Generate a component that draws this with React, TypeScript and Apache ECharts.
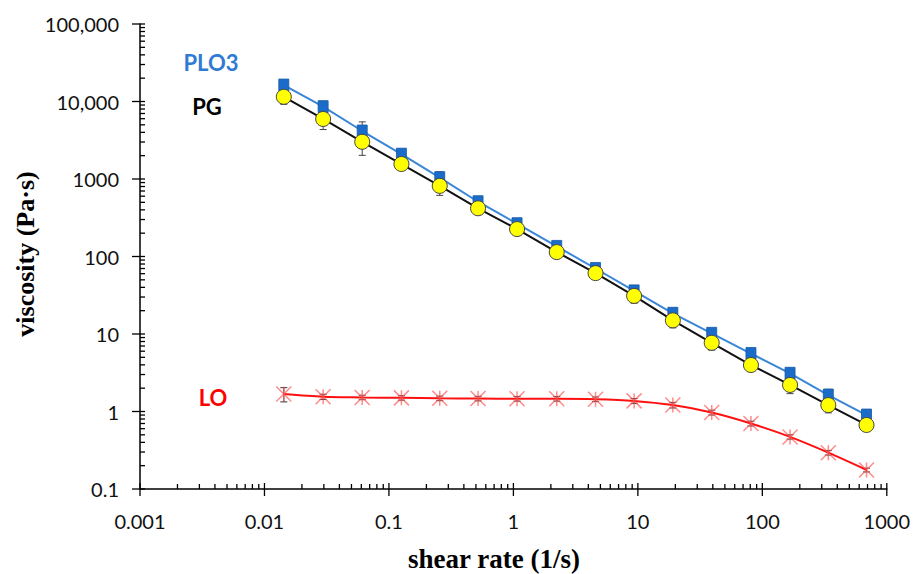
import React, { useEffect, useRef } from "react";
import * as echarts from "echarts";

const shearRate = [0.0143, 0.0296, 0.061, 0.126, 0.256, 0.52, 1.07, 2.23, 4.57, 9.33, 19.1, 39.2, 81, 167, 339, 687];
const plo3 = [16300, 8570, 4160, 2090, 1040, 509, 265, 135, 70, 36, 18.5, 10.2, 5.6, 3.11, 1.63, 0.9];
const plo3Sd = [2000, 1500, 1300, 250, 200, 50, 30, 15, 8, 5, 3, 1, 0.5, 0.5, 0.3, 0.05];
const pg = [11500, 5950, 3020, 1560, 815, 419, 226, 114, 61, 31, 15, 7.7, 3.98, 2.2, 1.21, 0.67];
const pgSd = [2300, 1600, 1000, 250, 200, 60, 30, 15, 10, 6, 3, 1.5, 0.4, 0.5, 0.25, 0.05];
const lo = [1.68, 1.55, 1.52, 1.5, 1.48, 1.47, 1.46, 1.46, 1.44, 1.37, 1.21, 0.97, 0.7, 0.47, 0.294, 0.176];
const loSd = [0.35, 0.12, 0.1, 0.1, 0.1, 0.1, 0.1, 0.1, 0.1, 0.1, 0.1, 0.07, 0.05, 0.03, 0.02, 0.01];

const xMajor = [0.001, 0.01, 0.1, 1, 10, 100, 1000];
const yMajor = [0.1, 1, 10, 100, 1000, 10000, 100000];
const minorMult = [2, 3, 4, 5, 6, 7, 8, 9];

const X_MIN = 0.001, X_MAX = 1000, Y_MIN = 0.1, Y_MAX = 100000;

function fmt(v: number): string {
  const n = Number(v.toPrecision(3));
  if (n >= 10000) return n.toLocaleString("en-US");
  return String(n);
}

export default function App() {
  const ref = useRef<HTMLDivElement>(null);
  useEffect(() => {
    if (!ref.current) return;
    const chart = echarts.init(ref.current, undefined, { renderer: "svg" });

    const tickData: number[][] = [];
    xMajor.forEach((v) => tickData.push([v, Y_MIN, 0]));
    xMajor.slice(0, -1).forEach((v) => minorMult.forEach((m) => tickData.push([v * m, Y_MIN, 1])));
    yMajor.forEach((v) => tickData.push([X_MIN, v, 2]));
    yMajor.slice(0, -1).forEach((v) => minorMult.forEach((m) => tickData.push([X_MIN, v * m, 3])));

    const errSeries = (vals: number[], sd: number[], color: string) => ({
      type: "custom",
      z: 1,
      clip: false,
      data: shearRate.map((x, i) => [x, vals[i], sd[i]]),
      encode: { x: 0, y: 1 },
      renderItem: (params: any, api: any) => {
        const x = api.value(0), v = api.value(1), s = api.value(2);
        const top = api.coord([x, v + s]);
        const bot = api.coord([x, Math.max(v - s, v * 0.05)]);
        const cw = 3.5;
        const st = { stroke: color, lineWidth: 1 };
        return {
          type: "group",
          children: [
            { type: "line", shape: { x1: top[0], y1: top[1], x2: bot[0], y2: bot[1] }, style: st },
            { type: "line", shape: { x1: top[0] - cw, y1: top[1], x2: top[0] + cw, y2: top[1] }, style: st },
            { type: "line", shape: { x1: bot[0] - cw, y1: bot[1], x2: bot[0] + cw, y2: bot[1] }, style: st },
          ],
        };
      },
    });

    const option: any = {
      animation: false,
      backgroundColor: "#ffffff",
      grid: { left: 140, right: 25, top: 24, bottom: 85, containLabel: false },
      xAxis: {
        type: "log",
        logBase: 10,
        min: X_MIN,
        max: X_MAX,
        splitNumber: 6,
        axisLine: { show: true, lineStyle: { color: "#000", width: 1.5 } },
        axisTick: { show: false },
        splitLine: { show: false },
        axisLabel: {
          margin: 22,
          fontFamily: "Lato",
          fontSize: 20,
          color: "#111",
          formatter: (v: number) => fmt(v),
        },
      },
      yAxis: {
        type: "log",
        logBase: 10,
        min: Y_MIN,
        max: Y_MAX,
        splitNumber: 6,
        axisLine: { show: true, lineStyle: { color: "#000", width: 1.5 } },
        axisTick: { show: false },
        splitLine: { show: false },
        axisLabel: {
          margin: 21,
          fontFamily: "Lato",
          fontSize: 20,
          color: "#111",
          formatter: (v: number) => fmt(v),
        },
      },
      graphic: [
        { type: "text", x: 211, y: 62, style: { text: "PLO3", fill: "#2f7bd3", font: "bold 22px Lato", align: "center", verticalAlign: "middle" } },
        { type: "text", x: 207, y: 106, style: { text: "PG", fill: "#000", font: "bold 22px Lato", align: "center", verticalAlign: "middle" } },
        { type: "text", x: 213, y: 397, style: { text: "LO", fill: "#ff0000", font: "bold 22px Lato", align: "center", verticalAlign: "middle" } },
        { type: "text", x: 494, y: 559, style: { text: "shear rate (1/s)", fill: "#000", font: "bold 27px 'Liberation Serif'", align: "center", verticalAlign: "middle" } },
        { type: "text", x: 25, y: 254, rotation: Math.PI / 2, style: { text: "viscosity (Pa·s)", fill: "#000", font: "bold 26px 'Liberation Serif'", align: "center", verticalAlign: "middle" } },
      ],
      series: [
        {
          type: "custom",
          name: "ticks",
          z: 5,
          clip: false,
          silent: true,
          data: tickData,
          encode: { x: 0, y: 1 },
          renderItem: (params: any, api: any) => {
            const p = api.coord([api.value(0), api.value(1)]);
            const k = api.value(2);
            let shape;
            if (k === 0) shape = { x1: p[0], y1: p[1] - 6, x2: p[0], y2: p[1] + 7 };
            else if (k === 1) shape = { x1: p[0], y1: p[1] - 5, x2: p[0], y2: p[1] };
            else if (k === 2) shape = { x1: p[0] - 8, y1: p[1], x2: p[0] + 5, y2: p[1] };
            else shape = { x1: p[0], y1: p[1], x2: p[0] + 5, y2: p[1] };
            return { type: "line", shape, style: { stroke: "#000", lineWidth: 1.3 } };
          },
        },
        errSeries(plo3, plo3Sd, "#444"),
        errSeries(pg, pgSd, "#444"),
        errSeries(lo, loSd, "#333"),
        {
          type: "line",
          name: "PLO3",
          z: 2,
          data: shearRate.map((x, i) => [x, plo3[i]]),
          lineStyle: { color: "#3a86d6", width: 2 },
          symbol: "rect",
          symbolSize: [10, 12],
          itemStyle: { color: "#1a6cc8", borderColor: "#145aa8", borderWidth: 0.8 },
        },
        {
          type: "line",
          name: "PG",
          z: 3,
          data: shearRate.map((x, i) => [x, pg[i]]),
          lineStyle: { color: "#111", width: 2 },
          symbol: "circle",
          symbolSize: 15,
          itemStyle: { color: "#ffff00", borderColor: "#444", borderWidth: 1 },
        },
        {
          type: "line",
          name: "LO",
          z: 2,
          smooth: 0.3,
          data: shearRate.map((x, i) => [x, lo[i]]),
          lineStyle: { color: "#ff1010", width: 2 },
          symbol: "path://M0,0L10,10M10,0L0,10M5,0L5,10",
          symbolSize: 15,
          itemStyle: { color: "rgba(0,0,0,0)", borderColor: "rgba(255,90,90,0.7)", borderWidth: 1.5 },
        },
      ],
    };
    chart.setOption(option);
    return () => chart.dispose();
  }, []);
  return <div ref={ref} style={{ position: "fixed", left: 0, top: 0, width: 913, height: 574 }} />;
}
